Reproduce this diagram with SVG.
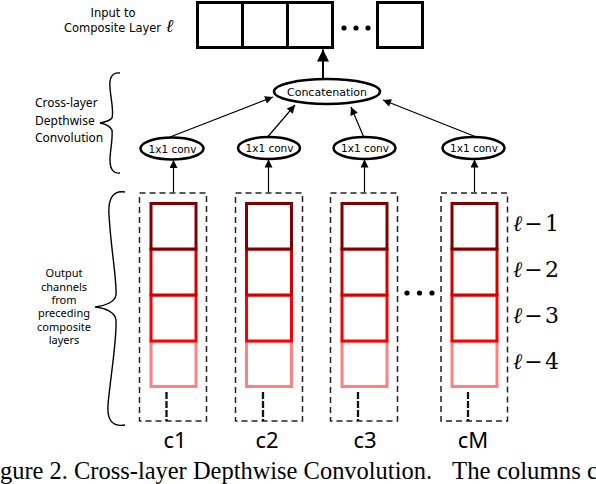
<svg xmlns="http://www.w3.org/2000/svg" width="596" height="484" viewBox="0 0 596 484">
<style>
.sans{font-family:"DejaVu Sans",sans-serif;fill:#000}
.noto{font-family:"Noto Sans","Open Sans",sans-serif;fill:#000}
.serif{font-family:"Liberation Serif","DejaVu Serif",serif;fill:#000}
.math{font-family:"DejaVu Serif","Liberation Serif",serif;fill:#000}
.topbox{fill:#fff;stroke:#000;stroke-width:3}
.ell{fill:#fff;stroke:#000;stroke-width:2.5}
.col{fill:none;stroke:#222;stroke-width:1.5;stroke-dasharray:6 4}
.vd{fill:none;stroke:#111;stroke-width:2.3;stroke-dasharray:7 2}
.r1{fill:#fff;stroke:#800000;stroke-width:3}
.r2{fill:#fff;stroke:#d40000;stroke-width:3}
.r3{fill:#fff;stroke:#ff0000;stroke-width:3}
.r4{fill:#fff;stroke:#ff8080;stroke-width:3}
.arr{fill:none;stroke:#000;stroke-width:1.2;marker-end:url(#ah)}
.brace{fill:none;stroke:#000;stroke-width:1.4}
</style>
<defs>
<marker id="ah" viewBox="0 0 10 10" refX="10" refY="5" markerWidth="11" markerHeight="8" markerUnits="userSpaceOnUse" orient="auto">
<path d="M0,0 L10,5 L0,10 Z" fill="#000"/>
</marker>
<marker id="ahb" viewBox="0 0 10 10" refX="10" refY="5" markerWidth="13" markerHeight="12" markerUnits="userSpaceOnUse" orient="auto">
<path d="M0,0 L10,5 L0,10 Z" fill="#000"/>
</marker>
</defs>

<g id="input-label">
<text class="sans" font-size="11.5" text-anchor="middle" x="113" y="17">Input to</text>
<text class="sans" font-size="11.5" x="64" y="32">Composite Layer <tspan class="math" font-style="italic" font-size="18" dx="1">ℓ</tspan></text>
</g>

<g id="input-layer">
<rect class="topbox" x="197.5" y="2.5" width="45" height="45"/>
<rect class="topbox" x="242.5" y="2.5" width="45" height="45"/>
<rect class="topbox" x="287.5" y="2.5" width="45" height="45"/>
<circle cx="344" cy="28" r="2.6"/>
<circle cx="356" cy="28" r="2.6"/>
<circle cx="368" cy="28" r="2.6"/>
<rect class="topbox" x="377.5" y="2.5" width="45" height="45"/>
</g>

<g id="concat">
<ellipse class="ell" cx="327" cy="91.5" rx="53" ry="12.5"/>
<text class="sans" font-size="11" text-anchor="middle" x="327" y="95.5">Concatenation</text>
</g>

<g id="conv1">
<ellipse class="ell" cx="172" cy="148.5" rx="31.5" ry="11"/>
<text class="sans" font-size="10.5" text-anchor="middle" x="172.5" y="152.5">1x1 conv</text>
</g>
<g id="conv2">
<ellipse class="ell" cx="269" cy="148" rx="31" ry="11"/>
<text class="sans" font-size="10.5" text-anchor="middle" x="269.5" y="152">1x1 conv</text>
</g>
<g id="conv3">
<ellipse class="ell" cx="364.5" cy="148" rx="31" ry="11"/>
<text class="sans" font-size="10.5" text-anchor="middle" x="365" y="152">1x1 conv</text>
</g>
<g id="convM">
<ellipse class="ell" cx="473.5" cy="148" rx="31" ry="11"/>
<text class="sans" font-size="10.5" text-anchor="middle" x="474" y="152">1x1 conv</text>
</g>

<g id="connectors">
<line x1="323" y1="79" x2="323" y2="49.5" stroke="#000" stroke-width="2" marker-end="url(#ahb)"/>
<line class="arr" x1="170" y1="137" x2="273" y2="97"/>
<line class="arr" x1="268" y1="136.5" x2="295" y2="105"/>
<line class="arr" x1="363.5" y1="136.5" x2="351" y2="107"/>
<line class="arr" x1="475" y1="136.5" x2="383" y2="100"/>
<line class="arr" x1="173.5" y1="192" x2="173.5" y2="160"/>
<line class="arr" x1="268.5" y1="192" x2="268.5" y2="159.5"/>
<line class="arr" x1="364.5" y1="192" x2="364.5" y2="159.5"/>
<line class="arr" x1="474.5" y1="192" x2="474.5" y2="159.5"/>
</g>

<g id="col1">
<rect class="col" x="139.5" y="193" width="67" height="228"/>
<rect class="r4" x="151" y="341" width="45" height="45.5"/>
<rect class="r3" x="151" y="295" width="45" height="46"/>
<rect class="r2" x="151" y="249" width="45" height="46"/>
<rect class="r1" x="151" y="203.5" width="45" height="45.5"/>
<line class="vd" x1="166.5" y1="392" x2="166.5" y2="421"/>
<text class="noto" font-size="22" text-anchor="middle" x="175" y="448">c1</text>
</g>
<g id="col2">
<rect class="col" x="235.5" y="193" width="67" height="228"/>
<rect class="r4" x="246.5" y="341" width="45" height="45.5"/>
<rect class="r3" x="246.5" y="295" width="45" height="46"/>
<rect class="r2" x="246.5" y="249" width="45" height="46"/>
<rect class="r1" x="246.5" y="203.5" width="45" height="45.5"/>
<line class="vd" x1="263" y1="392" x2="263" y2="421"/>
<text class="noto" font-size="22" text-anchor="middle" x="267" y="448">c2</text>
</g>
<g id="col3">
<rect class="col" x="330.5" y="193" width="67" height="228"/>
<rect class="r4" x="342" y="341" width="45" height="45.5"/>
<rect class="r3" x="342" y="295" width="45" height="46"/>
<rect class="r2" x="342" y="249" width="45" height="46"/>
<rect class="r1" x="342" y="203.5" width="45" height="45.5"/>
<line class="vd" x1="358" y1="392" x2="358" y2="421"/>
<text class="noto" font-size="22" text-anchor="middle" x="365" y="448">c3</text>
</g>
<g id="dots">
<circle cx="407" cy="293" r="2.6"/>
<circle cx="419.5" cy="293" r="2.6"/>
<circle cx="432" cy="293" r="2.6"/>
</g>
<g id="colM">
<rect class="col" x="441" y="193" width="66.5" height="228"/>
<rect class="r4" x="452" y="341" width="45" height="45.5"/>
<rect class="r3" x="452" y="295" width="45" height="46"/>
<rect class="r2" x="452" y="249" width="45" height="46"/>
<rect class="r1" x="452" y="203.5" width="45" height="45.5"/>
<line class="vd" x1="468" y1="392" x2="468" y2="421"/>
<text class="noto" font-size="22" text-anchor="middle" x="473" y="448">cM</text>
</g>

<g id="layer-labels">
<text class="math" font-size="22" x="513" y="231" textLength="46" lengthAdjust="spacing"><tspan font-style="italic">ℓ</tspan>−1</text>
<text class="math" font-size="22" x="513" y="277" textLength="46" lengthAdjust="spacing"><tspan font-style="italic">ℓ</tspan>−2</text>
<text class="math" font-size="22" x="513" y="323" textLength="46" lengthAdjust="spacing"><tspan font-style="italic">ℓ</tspan>−3</text>
<text class="math" font-size="22" x="513" y="369" textLength="46" lengthAdjust="spacing"><tspan font-style="italic">ℓ</tspan>−4</text>
</g>

<g id="brace-top">
<path class="brace" d="M120,73 C112,72 109,78 110,88 C111,100 114,112 112,118 C110,121 105,122 100,123 C105,124 110,126 112,130 C113,140 110,150 110,160 C110,170 114,174 120,173"/>
<text class="noto" font-size="12" x="35" y="107">Cross-layer</text>
<text class="noto" font-size="12" x="35" y="124.5">Depthwise</text>
<text class="noto" font-size="12" x="35" y="142">Convolution</text>
</g>

<g id="brace-bottom">
<path class="brace" d="M125,192 C112,190 108,200 109,215 C111,250 117,280 116,295 C115,302 105,306 95,307 C105,308 115,312 116,320 C117,340 110,380 108,405 C107,420 112,427 125,425"/>
<text class="noto" font-size="11" text-anchor="middle" x="64" y="277">Output</text>
<text class="noto" font-size="11" text-anchor="middle" x="64" y="290.5">channels</text>
<text class="noto" font-size="11" text-anchor="middle" x="64" y="304">from</text>
<text class="noto" font-size="11" text-anchor="middle" x="64" y="317">preceding</text>
<text class="noto" font-size="11" text-anchor="middle" x="64" y="330.5">composite</text>
<text class="noto" font-size="11" text-anchor="middle" x="64" y="343.5">layers</text>
</g>

<g id="caption">
<text class="serif" font-size="26" x="0" y="479" textLength="432" lengthAdjust="spacingAndGlyphs">gure 2. Cross-layer Depthwise Convolution.</text>
<text class="serif" font-size="26" x="452" y="479" textLength="146" lengthAdjust="spacingAndGlyphs">The columns c</text>
</g>
</svg>
